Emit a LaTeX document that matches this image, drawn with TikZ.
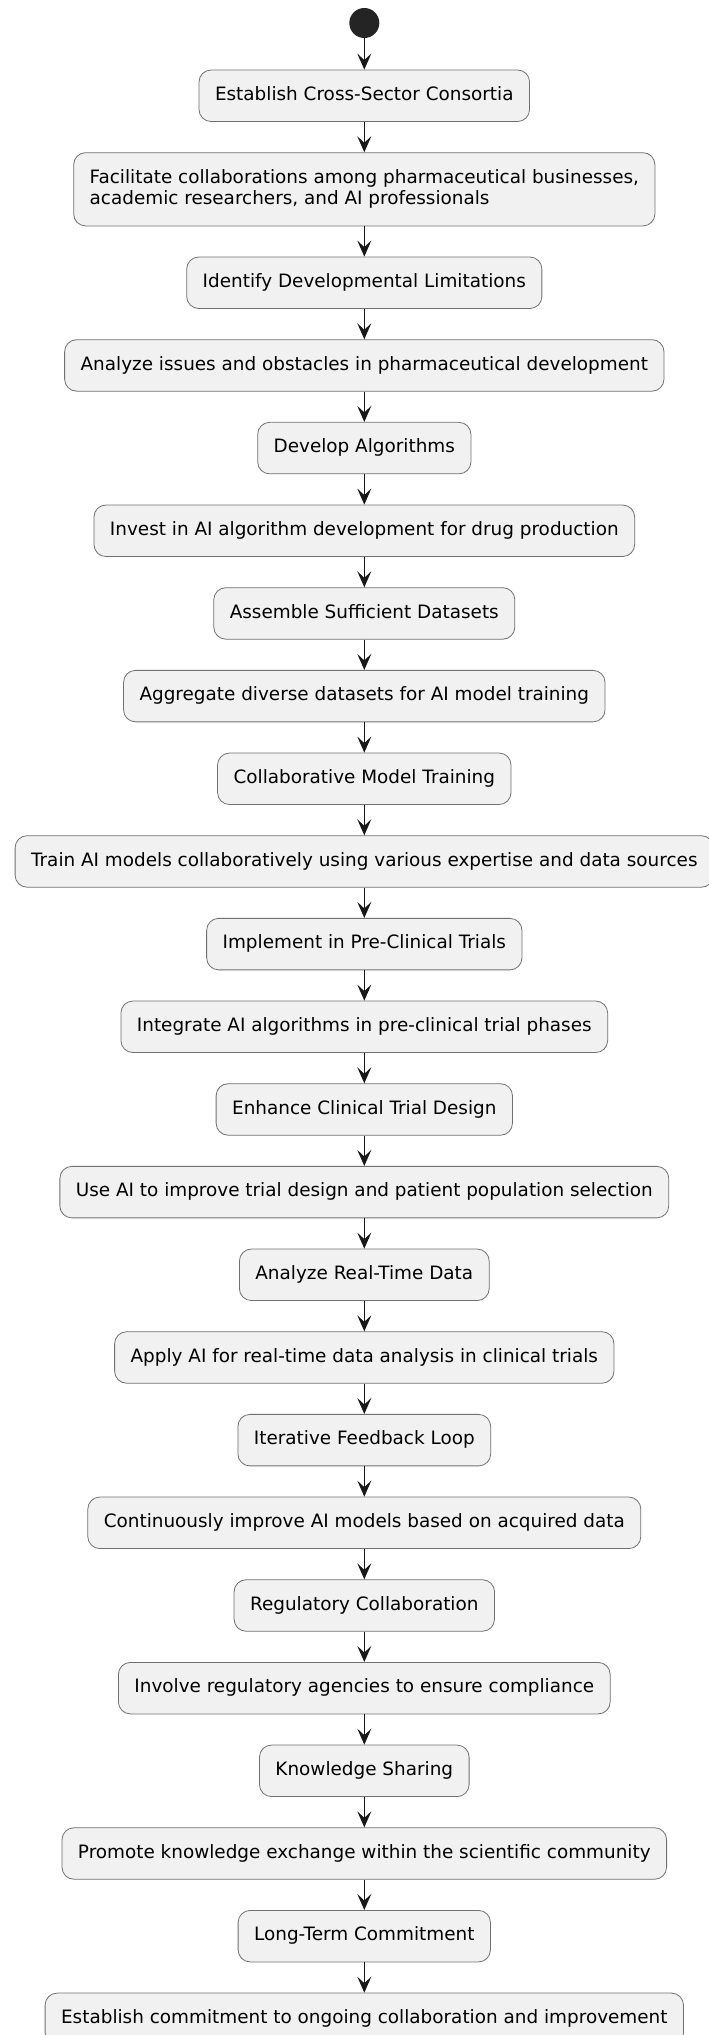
\documentclass[tikz,border=0pt]{standalone}
\usepackage{fontspec}
\setmainfont{DejaVu Sans}
\usetikzlibrary{arrows.meta}
\definecolor{boxfill}{HTML}{F1F1F1}
\definecolor{boxline}{HTML}{707070}
\definecolor{flow}{HTML}{181818}
\begin{document}
\begin{tikzpicture}[x=1pt,y=-1pt,
  actbox/.style={draw=boxline, line width=0.8pt, fill=boxfill, rounded corners=12pt,
    inner xsep=16pt, inner ysep=0pt, minimum height=51.5pt,
    font=\fontsize{18.4}{21}\selectfont},
  act/.style={actbox, text height=13.9pt, text depth=4.4pt},
  flowarrow/.style={draw=flow, line width=1.2pt,
    -{Stealth[length=16pt,width=14pt,inset=6.5pt]}},
  startdot/.style={circle, fill=flow!95!white, minimum size=30pt, inner sep=0pt}]
\useasboundingbox (0,0) rectangle (709,2035);
\clip (0,0) rectangle (709,2035);

\def\cx{364.3}
\node[startdot] (start) at (\cx,23) {};
\node[act] (n1) at (\cx,95.75) {Establish Cross-Sector Consortia};
\node[actbox, align=left, minimum height=73.3pt] (n2) at (\cx,189.3)
  {Facilitate collaborations among pharmaceutical businesses,\\academic researchers, and AI professionals};
\node[act] (n3) at (\cx,282.75) {Identify Developmental Limitations};
\node[act] (n4) at (\cx,365.42) {Analyze issues and obstacles in pharmaceutical development};
\node[act] (n5) at (\cx,448.09) {Develop Algorithms};
\node[act] (n6) at (\cx,530.76) {Invest in AI algorithm development for drug production};
\node[act] (n7) at (\cx,613.43) {Assemble Sufficient Datasets};
\node[act] (n8) at (\cx,696.10) {Aggregate diverse datasets for AI model training};
\node[act] (n9) at (\cx,778.77) {Collaborative Model Training};
\node[act] (n10) at (\cx,861.44) {Train AI models collaboratively using various expertise and data sources};
\node[act] (n11) at (\cx,944.11) {Implement in Pre-Clinical Trials};
\node[act] (n12) at (\cx,1026.78) {Integrate AI algorithms in pre-clinical trial phases};
\node[act] (n13) at (\cx,1109.45) {Enhance Clinical Trial Design};
\node[act] (n14) at (\cx,1192.12) {Use AI to improve trial design and patient population selection};
\node[act] (n15) at (\cx,1274.79) {Analyze Real-Time Data};
\node[act] (n16) at (\cx,1357.46) {Apply AI for real-time data analysis in clinical trials};
\node[act] (n17) at (\cx,1440.13) {Iterative Feedback Loop};
\node[act] (n18) at (\cx,1522.80) {Continuously improve AI models based on acquired data};
\node[act] (n19) at (\cx,1605.47) {Regulatory Collaboration};
\node[act] (n20) at (\cx,1688.14) {Involve regulatory agencies to ensure compliance};
\node[act] (n21) at (\cx,1770.81) {Knowledge Sharing};
\node[act] (n22) at (\cx,1853.48) {Promote knowledge exchange within the scientific community};
\node[act] (n23) at (\cx,1936.15) {Long-Term Commitment};
\node[act] (n24) at (\cx,2018.82) {Establish commitment to ongoing collaboration and improvement};

\draw[flowarrow] (start) -- (n1);
\foreach \a/\b in {n1/n2,n2/n3,n3/n4,n4/n5,n5/n6,n6/n7,n7/n8,n8/n9,n9/n10,n10/n11,
  n11/n12,n12/n13,n13/n14,n14/n15,n15/n16,n16/n17,n17/n18,n18/n19,n19/n20,n20/n21,
  n21/n22,n22/n23,n23/n24}
  \draw[flowarrow] (\a) -- (\b);
\end{tikzpicture}
\end{document}
